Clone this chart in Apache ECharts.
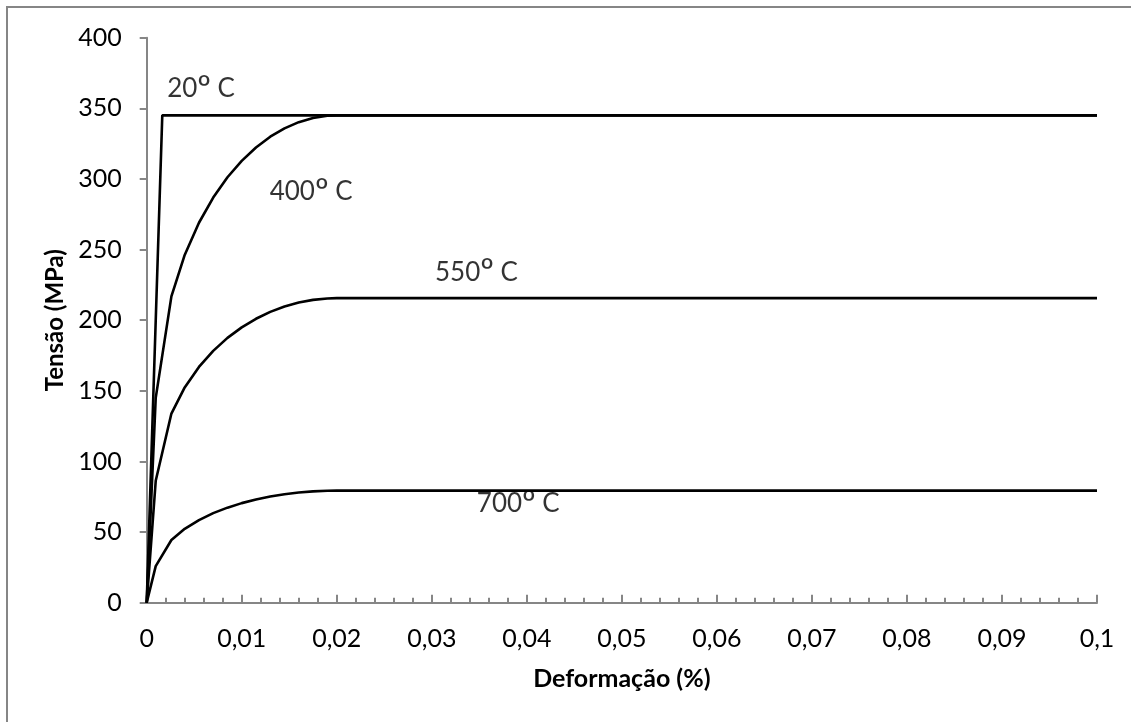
<!DOCTYPE html>
<html>
<head>
<meta charset="utf-8">
<script src="https://cdn.jsdelivr.net/npm/echarts@6/dist/echarts.min.js"></script>
<style>
html,body{margin:0;padding:0;background:#fff;}
#chart{width:1131px;height:722px;}
</style>
</head>
<body>
<div id="chart"></div>
<script>
// Strain (x) and stress (MPa)
const strain20 = [0, 0.00164, 0.1];
const stress20 = [0, 345, 345];

const strainCurve = [0, 0.00095, 0.0026, 0.004, 0.0055, 0.007, 0.0085, 0.010, 0.0115, 0.013, 0.0145, 0.016, 0.0175, 0.019, 0.020, 0.1];
const stress400 = [0, 145, 216.9, 246.2, 269.0, 286.8, 301.2, 312.8, 322.3, 329.9, 335.8, 340.2, 343.2, 344.7, 345.0, 345.0];
const stress550 = [0, 86.3, 133.9, 152.4, 166.9, 178.3, 187.5, 194.9, 201.0, 205.9, 209.7, 212.5, 214.4, 215.4, 215.6, 215.6];
const stress700 = [0, 25.9, 44.4, 52.3, 58.5, 63.4, 67.3, 70.5, 73.1, 75.2, 76.8, 78.0, 78.8, 79.3, 79.35, 79.35];

const xTickLabels = ['0', '0,01', '0,02', '0,03', '0,04', '0,05', '0,06', '0,07', '0,08', '0,09', '0,1'];
const yTickLabels = ['0', '50', '100', '150', '200', '250', '300', '350', '400'];

const curveTemps = ['20', '400', '550', '700'];
const labelX = [0.00572, 0.0173, 0.0347, 0.0391];
const labelY = [364, 291, 234, 70];

const FONT = 'Lato';
const AXIS_GRAY = '#868686';

function pairs(xs, ys) { return xs.map((x, i) => [x, ys[i]]); }

function lineSeries(name, data) {
  return {
    name: name,
    type: 'line',
    data: data,
    showSymbol: false,
    symbol: 'none',
    smooth: false,
    lineStyle: { color: '#000', width: 2.6 },
    silent: true,
    animation: false
  };
}

const chart = echarts.init(document.getElementById('chart'), null, { renderer: 'canvas' });

const option = {
  backgroundColor: '#fff',
  animation: false,
  textStyle: { fontFamily: FONT },
  graphic: [{
    type: 'rect',
    shape: { x: 7, y: 7, width: 1140, height: 740 },
    style: { fill: 'none', stroke: AXIS_GRAY, lineWidth: 2 },
    silent: true,
    z: -1
  }],
  grid: { left: 146.7, right: 34, top: 37.7, bottom: 119.3 },
  xAxis: {
    type: 'value',
    min: 0, max: 0.1, interval: 0.01,
    name: 'Deformação (%)',
    nameLocation: 'middle',
    nameGap: 64,
    nameTextStyle: { fontFamily: FONT, fontSize: 25, fontWeight: 'bold', color: '#000' },
    axisLine: { show: true, lineStyle: { color: AXIS_GRAY, width: 2 } },
    axisTick: { show: true, inside: true, length: 8, lineStyle: { color: AXIS_GRAY, width: 2 } },
    minorTick: { show: true, splitNumber: 5, length: 5, lineStyle: { color: AXIS_GRAY, width: 2 } },
    axisLabel: {
      fontFamily: FONT, fontSize: 25, color: '#000', margin: 24,
      formatter: function (v) { return xTickLabels[Math.round(v / 0.01)]; }
    },
    splitLine: { show: false }
  },
  yAxis: {
    type: 'value',
    min: 0, max: 400, interval: 50,
    name: 'Tensão (MPa)',
    nameLocation: 'middle',
    nameGap: 78,
    nameRotate: 90,
    nameTextStyle: { fontFamily: FONT, fontSize: 24, fontWeight: 'bold', color: '#000' },
    axisLine: { show: true, lineStyle: { color: AXIS_GRAY, width: 2 } },
    axisTick: { show: true, inside: false, length: 7, lineStyle: { color: AXIS_GRAY, width: 2 } },
    axisLabel: {
      fontFamily: FONT, fontSize: 25, color: '#000', margin: 25,
      formatter: function (v) { return yTickLabels[Math.round(v / 50)]; }
    },
    splitLine: { show: false }
  },
  series: [
    lineSeries('20º C', pairs(strain20, stress20)),
    lineSeries('400º C', pairs(strainCurve, stress400)),
    lineSeries('550º C', pairs(strainCurve, stress550)),
    lineSeries('700º C', pairs(strainCurve, stress700)),
    {
      type: 'scatter',
      silent: true,
      symbolSize: 0,
      data: curveTemps.map((t, i) => ({ value: [labelX[i], labelY[i]], name: t })),
      label: {
        show: true,
        position: 'inside',
        fontFamily: FONT,
        fontSize: 26,
        color: '#000',
        formatter: function (p) { return '{n|' + p.name + '}{s|º}{n| C}'; },
        rich: {
          n: { fontFamily: FONT, fontSize: 26, color: '#000', lineHeight: 30 },
          s: { fontFamily: FONT, fontSize: 34, color: '#000', lineHeight: 30 }
        }
      },
      z: 10
    }
  ]
};

chart.setOption(option);
</script>
</body>
</html>
